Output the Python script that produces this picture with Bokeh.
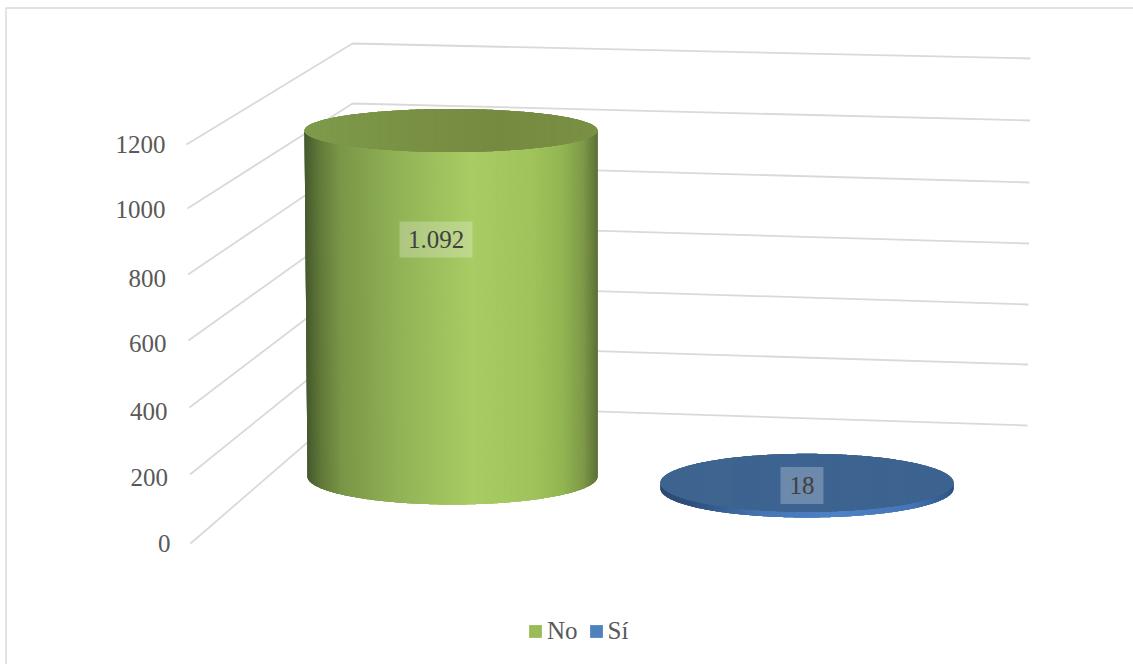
import numpy as np
from bokeh.core.properties import value
from bokeh.embed import file_html
from bokeh.models import Legend, LegendItem
from bokeh.plotting import figure
from bokeh.resources import INLINE

# Chart data
categories = ["No", "Sí"]
counts = [1092, 18]
count_labels = ["1.092", "18"]
tick_values = [0, 200, 400, 600, 800, 1000, 1200]
tick_labels = ["0", "200", "400", "600", "800", "1000", "1200"]

WIDTH, HEIGHT = 1133, 664
SERIF = "Liberation Serif"

# Perspective box: where each gridline meets the front-left, back-left and back-right edges
FRONT_X = [190, 189.5, 189, 188, 187.5, 187, 186]
FRONT_Y = [543, 474, 407, 340, 274, 208, 144]
BACK_LEFT_X = [352, 352, 352, 352, 352, 352, 352]
BACK_LEFT_Y = [403, 343, 283, 223, 163, 103, 43]
BACK_RIGHT_X = [1027, 1027.5, 1028, 1028.5, 1029, 1029.5, 1030]
BACK_RIGHT_Y = [425, 364, 304, 243, 182, 120, 58]
LABEL_RIGHT = [170, 167.5, 167, 166, 165.5, 165, 165]
LABEL_Y = [543, 477, 411, 343, 278, 209, 144]

# Height of one count unit on the cylinders, in screen pixels
UNIT = 346 / 1092

# Cylinder placement per category: base centre, radii
BASE = {
    "No": dict(cx=452, cy=476, rx=145, ry=28),
    "Sí": dict(cx=806.5, cy=488, rx=146.5, ry=29),
}
TOP_SHAPE = {
    "No": dict(cx=450.5, rx=146.5, ry=21.5),
    "Sí": dict(cx=806.5, rx=146.5, ry=29),
}

# Shading across each cylinder's width: position, colour
SIDE_SHADE = {
    "No": [(0.00, "#465a2e"), (0.05, "#627a3a"), (0.12, "#7a9647"), (0.32, "#92b356"),
           (0.57, "#a9cc64"), (0.78, "#a0c35c"), (0.88, "#92b552"), (0.95, "#7f9a49"),
           (1.00, "#5d7238")],
    "Sí": [(0.00, "#2c4a70"), (0.12, "#2f5280"), (0.35, "#4676b2"), (0.60, "#4e82c6"),
           (0.85, "#4676b4"), (1.00, "#2f5583")],
}
CAP_SHADE = {
    "No": [(0.00, "#7f9b4b"), (0.30, "#7a9245"), (0.65, "#768a41"), (1.00, "#7a9044")],
    "Sí": [(0.00, "#3e648f"), (0.50, "#3d6391"), (1.00, "#3d6391")],
}
LEGEND_COLORS = ["#9bbb59", "#4f81bd"]
OVERLAP = 4  # later strips paint over this many steps of the earlier one, hiding seams


def shade(stops, u):
    pos = [s[0] for s in stops]
    rgb = [[int(s[1][i:i + 2], 16) for i in (1, 3, 5)] for s in stops]
    return "#%02x%02x%02x" % tuple(int(round(np.interp(u, pos, [c[k] for c in rgb]))) for k in range(3))


def draw_side(p, name, count, steps=300):
    base, cap = BASE[name], TOP_SHAPE[name]
    top_y = base["cy"] - count * UNIT
    theta = np.linspace(np.pi, 0, steps + 1)
    xs, ys, colors = [], [], []
    for i in range(steps):
        t = theta[i:i + 1 + OVERLAP]
        xt = cap["cx"] + cap["rx"] * np.cos(t)
        yt = top_y + cap["ry"] * np.sin(t)
        xb = base["cx"] + base["rx"] * np.cos(t)
        yb = base["cy"] + base["ry"] * np.sin(t)
        xs.append(np.concatenate([xt, xb[::-1]]))
        ys.append(np.concatenate([yt, yb[::-1]]))
        colors.append(shade(SIDE_SHADE[name], (np.cos(theta[i] + (theta[1] - theta[0]) / 2) + 1) / 2))
    p.patches(xs, ys, fill_color=colors, line_color=None)


def draw_cap(p, name, count, steps=200):
    base, cap = BASE[name], TOP_SHAPE[name]
    top_y = base["cy"] - count * UNIT
    theta = np.linspace(np.pi, 0, steps + 1)
    xs, ys, colors = [], [], []
    for i in range(steps):
        t = theta[i:i + 1 + OVERLAP]
        x = cap["cx"] + cap["rx"] * np.cos(t)
        r = cap["ry"] * np.sin(t)
        xs.append(np.concatenate([x, x[::-1]]))
        ys.append(np.concatenate([top_y - r, (top_y + r)[::-1]]))
        colors.append(shade(CAP_SHADE[name], (np.cos(theta[i]) + 1) / 2))
    p.patches(xs, ys, fill_color=colors, line_color=None)


p = figure(width=WIDTH, height=HEIGHT, x_range=(0, WIDTH), y_range=(HEIGHT, 0),
           output_backend="svg", toolbar_location=None, min_border=0,
           background_fill_color="white", border_fill_color="white",
           outline_line_color=None)
p.axis.visible = False
p.grid.visible = False

# Chart frame: top and left edges sit inside the page
p.line([5.5, 5.5, WIDTH], [HEIGHT, 7.5, 7.5], line_color="#d9d9d9", line_width=1.4)

# Gridlines wrapping the left wall and the back wall
for i in range(len(tick_values)):
    p.line([FRONT_X[i], BACK_LEFT_X[i], BACK_RIGHT_X[i]],
           [FRONT_Y[i], BACK_LEFT_Y[i], BACK_RIGHT_Y[i]],
           line_color="#d9d9d9", line_width=1.8)

# Value labels of the vertical axis
p.text(LABEL_RIGHT, LABEL_Y, text=tick_labels, text_align="right", text_baseline="middle",
       text_font=value(SERIF), text_font_size="25px", text_color="#595959")

# Cylinders
for name, count in zip(categories, counts):
    draw_side(p, name, count)
    draw_cap(p, name, count)

# Data labels on translucent plates
label_x = [435.5, 801.5]
label_y = [239, 485]
plate_w = [73, 43]
plate_h = [36, 37]
p.rect(label_x, label_y, width=plate_w, height=plate_h, fill_color="white", fill_alpha=0.25, line_color=None)
p.text(label_x, label_y, text=count_labels, text_align="center", text_baseline="middle",
       text_font=value(SERIF), text_font_size="25px", text_color="#404040")

# Legend; the swatch glyphs have zero size so only their legend entries show
swatches = [p.quad(left=[0], right=[0], top=[0], bottom=[0], fill_color=c, line_color=None)
            for c in LEGEND_COLORS]
legend = Legend(
    items=[LegendItem(label=n, renderers=[r]) for n, r in zip(categories, swatches)],
    orientation="horizontal", location=(527, 19), background_fill_alpha=0, border_line_color=None,
    glyph_width=16, glyph_height=16, label_text_font=SERIF, label_text_font_size="25px",
    label_text_color="#595959", spacing=10, label_standoff=4, margin=0, padding=12,
)
p.add_layout(legend)

open("out.html", "w").write(file_html(p, INLINE))
